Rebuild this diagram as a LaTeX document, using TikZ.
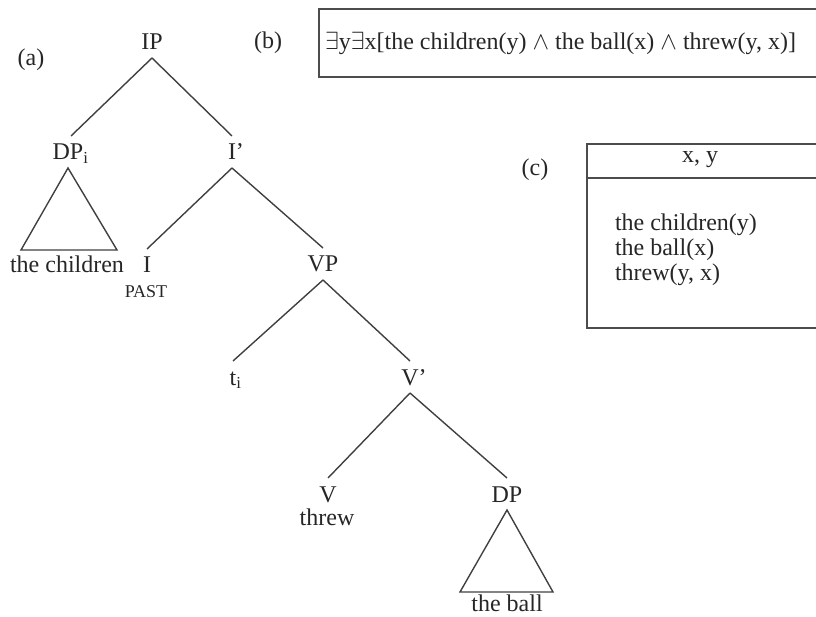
\documentclass[tikz,border=0pt]{standalone}
\usepackage{fontspec}
\setmainfont{Liberation Serif}
\begin{document}
\begin{tikzpicture}[x=1pt,y=-1pt,
  lab/.style={anchor=base,inner sep=0pt,outer sep=0pt,font=\fontsize{24}{28}\selectfont,text=black!85},
  cat/.style={lab,text height=16pt,text depth=0pt,outer sep=8pt},
  small/.style={lab,font=\fontsize{18}{20}\selectfont},
  edge/.style={draw=black!75,line width=1.4pt},
  frame/.style={draw=black!70,line width=2pt}]
\clip (0,0) rectangle (816,617);
% tree (a)
\node[lab] (la) at (31,66) {(a)};
\node[cat] (IP) at (152,50) {IP};
\node[cat] (DPi) at (68,160) {DP\rlap{\textsubscript{i}}};
\node[cat] (Ibar) at (232,160) {I\rlap{'}};
\node[lab] (children) at (67,273) {the children};
\node[cat] (I) at (147,273) {I};
\node[small] (past) at (146,298) {PAST};
\node[cat] (VP) at (323,272) {VP};
\node[cat] (t) at (233,385) {t\rlap{\textsubscript{i}}};
\node[cat] (Vbar) at (410,385) {V\rlap{'}};
\node[cat] (V) at (328,502) {V};
\node[lab] (threw) at (327,525) {threw};
\node[cat] (DP) at (507,502) {DP};
\node[lab] (ball) at (507,611) {the ball};
\draw[edge] (IP.south) -- ([xshift=3pt]DPi.north);
\draw[edge] (IP.south) -- (Ibar.north);
\draw[edge] (Ibar.south) -- (I.north);
\draw[edge] (Ibar.south) -- (VP.north);
\draw[edge] (VP.south) -- (t.north);
\draw[edge] (VP.south) -- (Vbar.north);
\draw[edge] (Vbar.south) -- (V.north);
\draw[edge] (Vbar.south) -- (DP.north);
\draw[edge] (DPi.south) -- ++(-47,82) -- ++(96,0) -- cycle;
\draw[edge] (DP.south) -- ++(-47,82) -- ++(93,0) -- cycle;
% (b)
\node[lab] (lb) at (268,49) {(b)};
\draw[frame] (319,9) rectangle (830,77);
\node[lab,anchor=base west] (formula) at (325,50) {$\exists$y$\exists$x[the children(y) $\wedge$ the ball(x) $\wedge$ threw(y, x)]};
% (c)
\node[lab] (lc) at (535,176) {(c)};
\draw[frame] (587,144) rectangle (830,328);
\draw[frame] (587,178) -- (830,178);
\node[lab] (univ) at (700,163) {x, y};
\node[lab,anchor=base west] (c1) at (615,231) {the children(y)};
\node[lab,anchor=base west] (c2) at (615,256) {the ball(x)};
\node[lab,anchor=base west] (c3) at (615,281) {threw(y, x)};
\end{tikzpicture}
\end{document}
